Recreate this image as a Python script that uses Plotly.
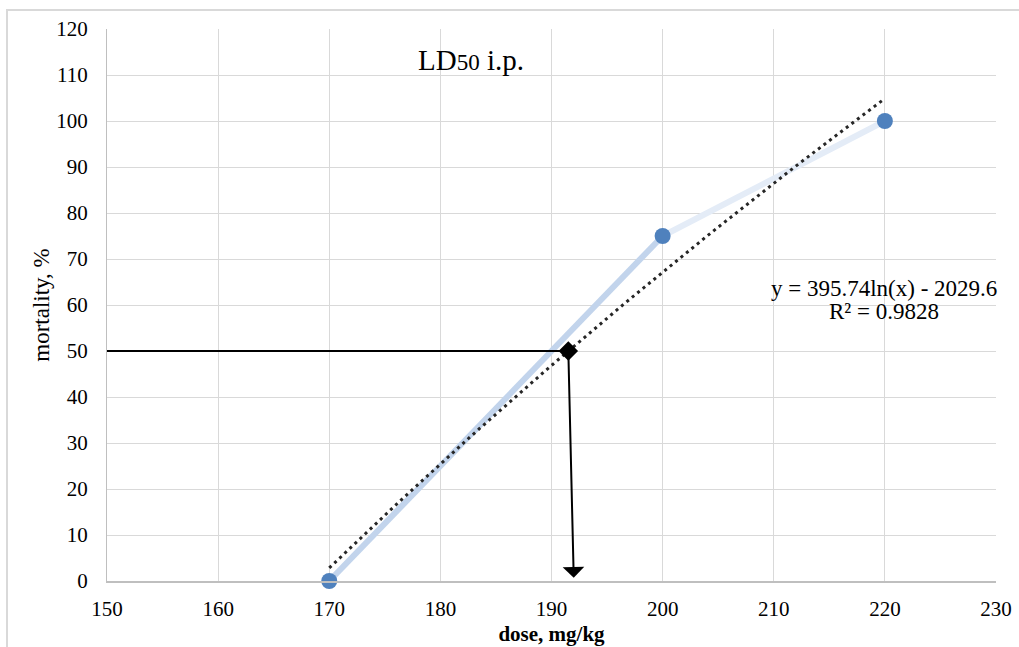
import numpy as np
import plotly.graph_objects as go

# ---- data ----
dose = [170, 200, 220]
mortality = [0, 75, 100]
x_ticks = [150, 160, 170, 180, 190, 200, 210, 220, 230]
y_ticks = [0, 10, 20, 30, 40, 50, 60, 70, 80, 90, 100, 110, 120]
trend_a = 395.74
trend_b = -2029.6
r_squared = 0.9828
target_mortality = 50
arrow_end = [192.0, 0.7]

FONT = "Liberation Serif"

ld50 = float(np.exp((target_mortality - trend_b) / trend_a))
trend_x = np.linspace(dose[0], dose[-1], 60)
trend_y = trend_a * np.log(trend_x) + trend_b

fig = go.Figure()

seg_colors = ["#C2D4EC", "#E4ECF7"]
for i in range(len(dose) - 1):
    fig.add_trace(go.Scatter(x=dose[i:i + 2], y=mortality[i:i + 2], mode="lines",
                             line=dict(color=seg_colors[i], width=6), hoverinfo="skip",
                             cliponaxis=False))

fig.add_trace(go.Scatter(x=trend_x, y=trend_y, mode="lines",
                         line=dict(color="#262626", width=3, dash="3px,4px"),
                         cliponaxis=False))

fig.add_trace(go.Scatter(x=dose, y=mortality, mode="markers",
                         marker=dict(color="#4F81BD", size=16), cliponaxis=False))

fig.add_trace(go.Scatter(x=[ld50], y=[target_mortality], mode="markers",
                         marker=dict(color="black", size=15, symbol="diamond")))

# horizontal line at 50%
fig.add_shape(type="line", xref="x", yref="y", x0=x_ticks[0], x1=ld50,
              y0=target_mortality, y1=target_mortality,
              line=dict(color="black", width=2))

# arrow down
fig.add_annotation(x=arrow_end[0], y=arrow_end[1], ax=ld50, ay=target_mortality,
                   xref="x", yref="y", axref="x", ayref="y", text="",
                   showarrow=True, arrowhead=1, arrowsize=1.8, arrowwidth=2,
                   arrowcolor="black")

# outer chart border
pw, ph = 889, 552
fig.add_shape(type="rect", xref="paper", yref="paper",
              x0=(7 - 107) / pw, x1=(1030 - 107) / pw,
              y0=(581 - 660) / ph, y1=(581 - 10) / ph,
              line=dict(color="#D9D9D9", width=2), layer="below")

fig.add_annotation(x=182.8, y=113.2, xref="x", yref="y", showarrow=False,
                   text="LD<span style='font-size:23px'>50</span> i.p.",
                   font=dict(family=FONT, size=29, color="black"))

fig.add_annotation(x=219.9, y=63.6, xref="x", yref="y", showarrow=False,
                   text=f"y = {trend_a}ln(x) - {abs(trend_b)}",
                   font=dict(family=FONT, size=23, color="black"))
fig.add_annotation(x=219.9, y=58.5, xref="x", yref="y", showarrow=False,
                   text=f"R² = {r_squared}",
                   font=dict(family=FONT, size=23, color="black"))

fig.update_layout(
    width=1019, height=647,
    margin=dict(l=107, r=23, t=29, b=66),
    paper_bgcolor="white", plot_bgcolor="white",
    showlegend=False,
    font=dict(family=FONT, size=21, color="black"),
)
fig.update_xaxes(range=[x_ticks[0], x_ticks[-1]], tickvals=x_ticks,
                 showgrid=True, gridcolor="#D9D9D9", gridwidth=1,
                 showline=True, linecolor="#BFBFBF", linewidth=2,
                 zeroline=False, ticks="", ticklabelstandoff=8, automargin=False,
                 title=dict(text="<b>dose, mg/kg</b>", font=dict(family=FONT, size=21), standoff=6))
fig.update_yaxes(range=[y_ticks[0], y_ticks[-1]], tickvals=y_ticks,
                 showgrid=True, gridcolor="#D9D9D9", gridwidth=1,
                 showline=True, linecolor="#BFBFBF", linewidth=1,
                 zeroline=False, ticks="", ticklabelstandoff=14, automargin=False,
                 title=dict(text="mortality, %", font=dict(family=FONT, size=23), standoff=0))

fig.write_html("out.html")
